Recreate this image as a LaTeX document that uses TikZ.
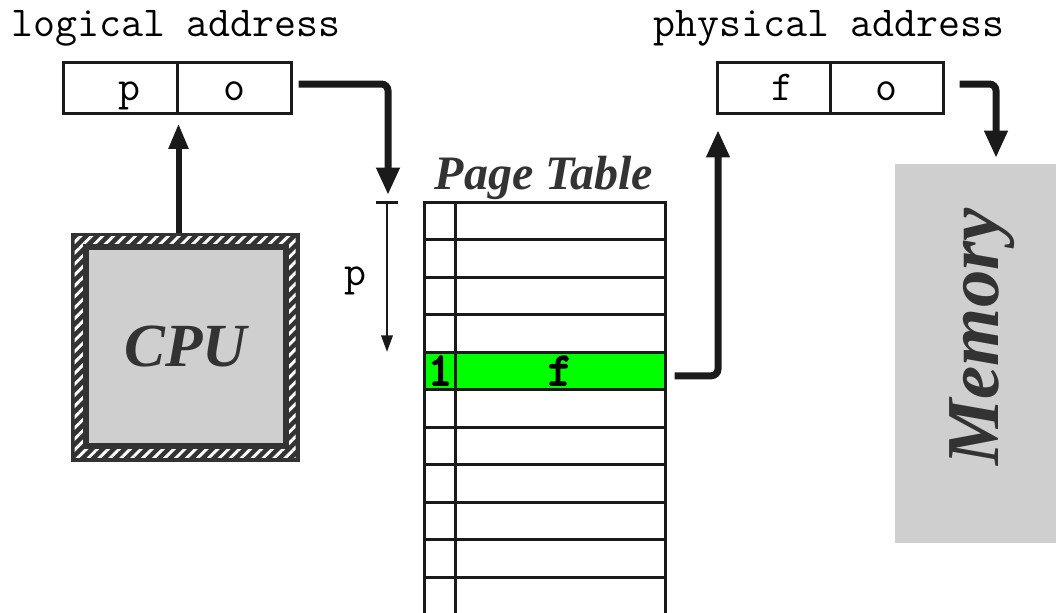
\documentclass[tikz,border=0pt]{standalone}
\usepackage{fontspec}
\setmainfont{Liberation Serif}
\newfontfamily\monobold{Latin Modern Mono}[FakeBold=4]
\usetikzlibrary{arrows.meta,patterns.meta}
\definecolor{ink}{HTML}{1A1A1A}
\definecolor{dim}{HTML}{333333}
\definecolor{boxgray}{HTML}{CFCFCF}
\definecolor{hl}{HTML}{00FF00}
\begin{document}
\begin{tikzpicture}[x=0.75pt,y=-0.75pt,
  mono/.style={font=\fontsize{32}{34}\selectfont\ttfamily, text=black},
  monob/.style={font=\fontsize{35}{37}\selectfont\monobold, text=black},
  title/.style={font=\fontsize{#1}{#1}\selectfont\bfseries\itshape, text=dim},
  cell/.style={draw=ink, line width=2.25pt, minimum width=85.5pt, minimum height=38.25pt,
    inner sep=0pt, text height=24.8pt, text depth=6pt, mono},
  entrycell/.style={draw=ink, fill=hl, line width=2.25pt, minimum height=28.125pt,
    inner sep=0pt, text height=24pt, text depth=2.6pt, monob},
  tbl/.style={draw=ink, line width=2.25pt},
  bigarrow/.style={draw=ink, line width=5.25pt, rounded corners=5pt,
    -{Triangle[width=16.5pt,length=20.5pt]}},
  thinarrow/.style={draw=ink, line width=1.9pt, -{Triangle[width=8.5pt,length=12.5pt]}}
]
\useasboundingbox (0,0) rectangle (1056,612);

% texts above boxes
\node[mono, anchor=base, inner sep=0pt] (lalabel) at (176,36) {logical address};
\node[mono, anchor=base, inner sep=0pt] (palabel) at (829,36) {physical address};

% logical address box
\node[cell] (lp) at (120,87.5) {\hspace{13.5pt}p};
\node[cell] (lo) at (234,87.5) {o};

% physical address box
\node[cell, minimum width=84.75pt] (pf) at (773.5,87.5) {\hspace{13.5pt}f};
\node[cell, minimum width=84.75pt] (po) at (886.5,87.5) {o};

% CPU
\node[fill=dim, draw=dim, line width=2.25pt, minimum width=169.5pt, minimum height=169.5pt] (cpubox) at (185,347) {};
\path[pattern={Lines[angle=45,distance=5.8pt,line width=2.2pt]}, pattern color=white]
  ([shift={(4,-4)}]cpubox.south west) rectangle ([shift={(-4,4)}]cpubox.north east);
\node[fill=boxgray, draw=dim, line width=4.5pt, minimum width=150pt, minimum height=149.25pt,
  inner sep=0pt, title=46] (cpu) at (185.5,346) {CPU};

% CPU -> logical address
\draw[draw=ink, line width=4.5pt, -{Triangle[width=14pt,length=19pt]}]
  (lp.south east |- cpubox.north) -- ([shift={(0,9)}]lp.south east);

% Page table
\node[title=36, anchor=base, inner sep=0pt] (pttitle) at (544,189) {Page Table};
\node[entrycell, minimum width=23.25pt] (valid) at (440,370.75) {1};
\node[entrycell, minimum width=157.5pt] (frame) at (560,370.75) {f\hspace{13.5pt}};
\draw[tbl] (424,614) -- (424,202) -- (665,202) -- (665,614);
\draw[tbl] (455,202) -- (455,614);
\foreach \k in {1,...,10} \draw[tbl] (424,202+37.5*\k) -- (665,202+37.5*\k);

% p offset bracket
\coordinate (ptop) at (387,202);
\coordinate (pbot) at (387,352);
\draw[draw=ink, line width=2.25pt] ([shift={(-11,0)}]ptop) -- ([shift={(11,0)}]ptop);
\draw[thinarrow] (ptop) -- (pbot);
\node[mono, anchor=base, inner sep=0pt] (plabel) at (355,285) {p};

% logical -> page table
\coordinate (ptin) at (388,195);
\draw[bigarrow] ([shift={(6,-3.5)}]lo.east) -| (ptin);

% page table entry -> physical address
\coordinate (pain) at (718,130);
\draw[bigarrow] ([shift={(8,5)}]frame.east) -| (pain);

% Memory
\node[fill=boxgray, minimum width=128.25pt, minimum height=284.25pt, inner sep=0pt] (mem) at (980.5,353.5) {};
\node[title=56, rotate=90, inner sep=0pt] (memlabel) at (982,337) {Memory};
\coordinate (memin) at (996,158);
\draw[bigarrow] ([shift={(15,-3.5)}]po.east) -| (memin);
\end{tikzpicture}
\end{document}
